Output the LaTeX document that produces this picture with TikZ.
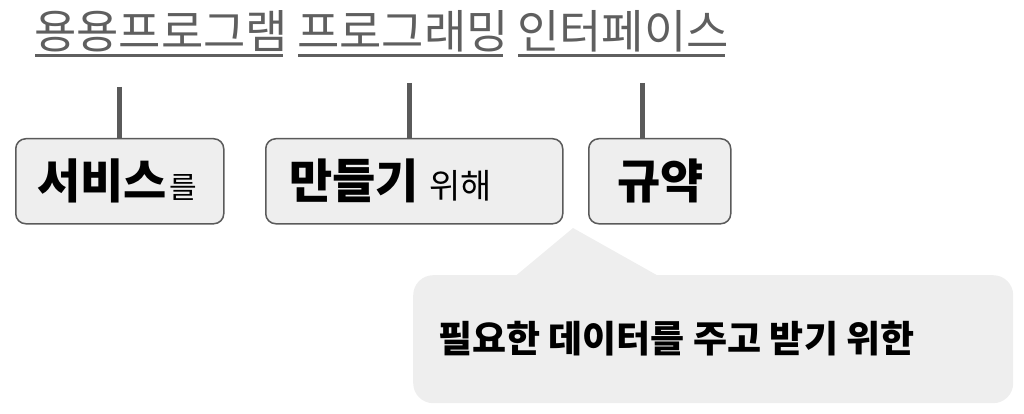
\documentclass[tikz,border=0pt]{standalone}
\usepackage{fontspec}
\setmainfont{Noto Sans CJK KR}
\definecolor{boxfill}{HTML}{EEEEEE}
\definecolor{edge}{HTML}{5A5A5A}
\definecolor{titlegray}{HTML}{5F5F5F}
\begin{document}
\begin{tikzpicture}[x=1pt,y=-1pt,
  box/.style={draw=edge, line width=1.5pt, fill=boxfill, rounded corners=10pt, inner sep=0pt, anchor=north west, minimum height=85pt},
  stub/.style={draw=edge, line width=5pt},
  lbl/.style={inner sep=0pt, anchor=base west},
  big/.style={font=\bfseries\fontsize{47}{47}\selectfont},
  titleword/.style={inner sep=0pt, anchor=base west, text=titlegray, font=\fontsize{46}{46}\selectfont},
  uline/.style={draw=titlegray, line width=3pt}]
\useasboundingbox (0,0) rectangle (1024,414);
% title
\node[titleword] (w1) at (34,49) {용용프로그램};
\node[titleword] (w2) at (297,49) {프로그래밍};
\node[titleword] (w3) at (517,49) {인터페이스};
\coordinate (u1a) at (35,55.5);  \coordinate (u1b) at (283,55.5);
\coordinate (u2a) at (298,55.5); \coordinate (u2b) at (503,55.5);
\coordinate (u3a) at (518,55.5); \coordinate (u3b) at (725,55.5);
\draw[uline] (u1a) -- (u1b);
\draw[uline] (u2a) -- (u2b);
\draw[uline] (u3a) -- (u3b);
% boxes
\node[box, minimum width=208pt] (b1) at (15,138) {};
\node[box, minimum width=297pt] (b2) at (265,138) {};
\node[box, minimum width=142pt] (b3) at (588,138) {};
% stubs
\coordinate (s1) at (119,87);
\coordinate (s2) at (409,83);
\coordinate (s3) at (642,83);
\draw[stub] (s1) -- (s1 |- b1.north);
\draw[stub] (s2) -- (s2 |- b2.north);
\draw[stub] (s3) -- (s3 |- b3.north);
% box texts
\node[lbl, big] (t1) at (37,198) {서비스};
\node[lbl, font=\fontsize{30}{30}\selectfont] (t1b) at ([xshift=2pt]t1.base east) {를};
\node[lbl, big] (t2) at (289,198) {만들기};
\node[lbl, font=\fontsize{34}{34}\selectfont] (t2b) at (429,198) {위해};
\node[lbl, big] (t3) at (617,198) {규약};
% callout
\node[inner sep=0pt, anchor=north west, fill=boxfill, rounded corners=20pt, minimum width=600pt, minimum height=128pt] (c) at (413,275) {};
\coordinate (tip) at (573,228);
\fill[boxfill] ([xshift=100pt,yshift=-3pt]c.north west) -- (tip) -- ([xshift=249pt,yshift=-3pt]c.north west) -- cycle;
\node[lbl, font=\bfseries\fontsize{37}{37}\selectfont] (ct) at (438,352) {필요한 데이터를 주고 받기 위한};
\end{tikzpicture}
\end{document}
